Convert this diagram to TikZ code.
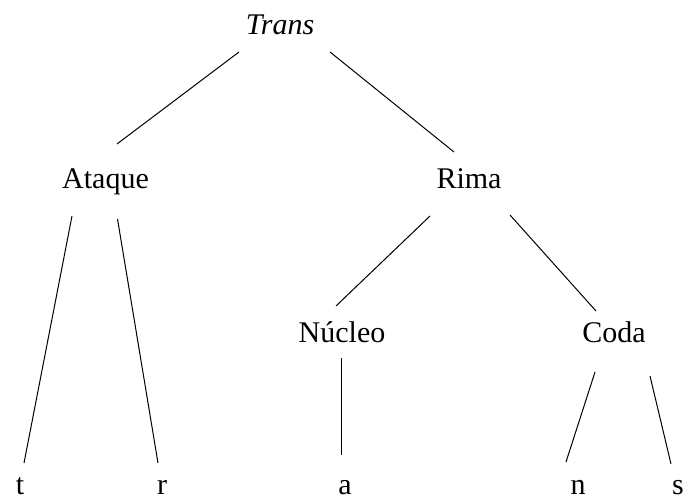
\documentclass[tikz,border=0pt]{standalone}
\usepackage{fontspec}
\setmainfont{Liberation Serif}
\usetikzlibrary{positioning}

\begin{document}
\begin{tikzpicture}[%
    x=0.5pt,y=-0.5pt,line width=0.5pt,
    syl/.style={anchor=base,inner sep=0pt,font=\fontsize{15}{18}\selectfont}
  ]
    \useasboundingbox (0,0) rectangle (685,497);
    \node[syl] (trans)  at (280,35)  {\textit{Trans}};
    \node[syl] (ataque) at (105.5,189) {Ataque};
    \node[syl] (rima)   at (469,189) {Rima};
    \node[syl] (nucleo) at (342,342) {Núcleo};
    \node[syl] (coda)   at (614,342) {Coda};
    \node[syl] (t)      at (20,494)  {t};
    \node[syl] (r)      at (162,494) {r};
    \node[syl] (a)      at (345,494) {a};
    \node[syl] (n)      at (578,494) {n};
    \node[syl] (s)      at (678,494) {s};
    \draw ([shift={(-41,17)}]trans.base)   -- ([shift={(11.5,-45)}]ataque.base);
    \draw ([shift={(50,17)}]trans.base)    -- ([shift={(-15,-37)}]rima.base);
    \draw ([shift={(-33.5,27)}]ataque.base) -- ([shift={(4,-31)}]t.base);
    \draw ([shift={(12,30)}]ataque.base)   -- ([shift={(-4,-31)}]r.base);
    \draw ([shift={(-39,27)}]rima.base)    -- ([shift={(-6,-36)}]nucleo.base);
    \draw ([shift={(41,26)}]rima.base)     -- ([shift={(-18,-31)}]coda.base);
    \draw ([shift={(-1,16)}]nucleo.base)   -- ([shift={(-4,-39)}]a.base);
    \draw ([shift={(-19,30)}]coda.base)    -- ([shift={(-12,-32)}]n.base);
    \draw ([shift={(36,34)}]coda.base)     -- ([shift={(-7,-30)}]s.base);
\end{tikzpicture}
\end{document}
